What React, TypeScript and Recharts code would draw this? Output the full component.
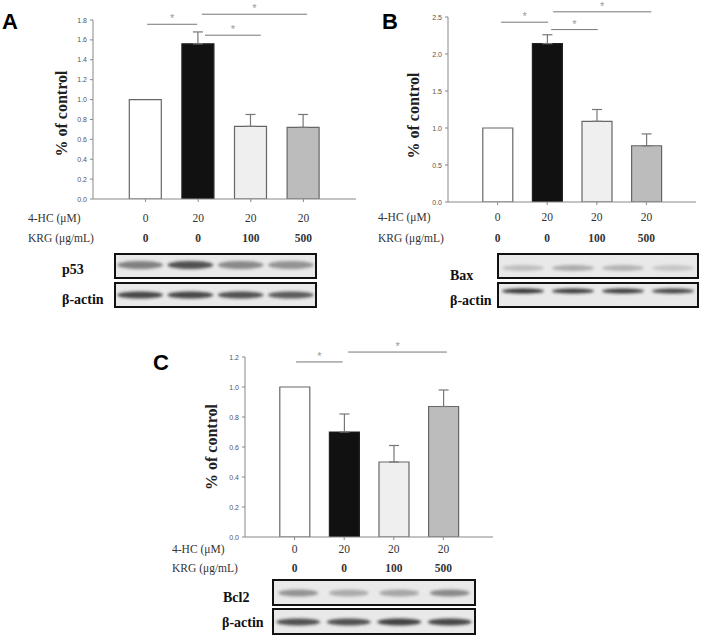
import { BarChart, Bar, XAxis, YAxis, ErrorBar, Cell, ReferenceLine } from 'recharts';

// treatment rows shown under every panel
const hcDose = ['0', '20', '20', '20'];
const krgDose = ['0', '0', '100', '500'];
const barFills = ['#ffffff', '#111111', '#efefef', '#bcbcbc'];

// A: p53
const p53Values = [1.0, 1.56, 0.73, 0.72];
const p53Errors = [0, 0.12, 0.12, 0.13];
const p53Ticks = [0, 0.2, 0.4, 0.6, 0.8, 1.0, 1.2, 1.4, 1.6, 1.8];
const p53Sig = [
  { from: 0.03, to: 0.98, y: 1.757 },
  { from: 1.13, to: 2.19, y: 1.647 },
  { from: 1.07, to: 3.07, y: 1.858 },
];

// B: Bax
const baxValues = [1.0, 2.14, 1.09, 0.76];
const baxErrors = [0, 0.12, 0.16, 0.16];
const baxTicks = [0, 0.5, 1.0, 1.5, 2.0, 2.5];
const baxSig = [
  { from: 0.07, to: 1.02, y: 2.43 },
  { from: 1.08, to: 2.02, y: 2.33 },
  { from: 1.12, to: 3.1, y: 2.57 },
];

// C: Bcl2
const bcl2Values = [1.0, 0.7, 0.5, 0.87];
const bcl2Errors = [0, 0.12, 0.11, 0.11];
const bcl2Ticks = [0, 0.2, 0.4, 0.6, 0.8, 1.0, 1.2];
const bcl2Sig = [
  { from: 0.03, to: 0.97, y: 1.167 },
  { from: 1.08, to: 3.07, y: 1.233 },
];

// western blot band intensities per lane
const p53Bands = [0.55, 0.8, 0.5, 0.45];
const actinBandsA = [0.85, 0.85, 0.8, 0.75];
const baxBands = [0.22, 0.32, 0.28, 0.18];
const actinBandsB = [0.95, 0.9, 0.9, 0.85];
const bcl2Bands = [0.45, 0.32, 0.35, 0.5];
const actinBandsC = [0.8, 0.8, 0.88, 0.85];

const serif = '"Liberation Serif", "Times New Roman", serif';
const sans = '"Liberation Sans", Arial, sans-serif';

const RowTick = (props: any) => {
  const { x, y, payload, rows } = props;
  const i = payload.value;
  return (
    <g>
      <text x={x} y={y + rows[0]} textAnchor="middle" fontFamily={serif} fontSize={11.5} fill="#333">
        {hcDose[i]}
      </text>
      <text x={x} y={y + rows[1]} textAnchor="middle" fontFamily={serif} fontSize={11.5} fontWeight="bold" fill="#333">
        {krgDose[i]}
      </text>
    </g>
  );
};

const YTick = (props: any) => {
  const { x, y, payload } = props;
  return (
    <text x={x} y={y} dy={2.5} textAnchor="end" fontFamily={sans} fontSize={7} fill="#555">
      {Number(payload.value).toFixed(1)}
    </text>
  );
};

const YLabel = (props: any) => {
  const { viewBox, dx, dy } = props;
  const x = viewBox.x + dx;
  const y = viewBox.y + viewBox.height / 2 + dy;
  return (
    <text
      x={x}
      y={y}
      transform={`rotate(-90, ${x}, ${y})`}
      textAnchor="middle"
      dominantBaseline="central"
      fontFamily={serif}
      fontWeight="bold"
      fontSize={16}
      fill="#222"
    >
      % of control
    </text>
  );
};

type PanelProps = {
  values: number[];
  errors: number[];
  ticks: number[];
  sig: { from: number; to: number; y: number }[];
  width: number;
  height: number;
  margin: { top: number; right: number; bottom: number; left: number };
  barSize: number;
  rows: number[];
  labelDx: number;
  labelDy: number;
};

const Panel = ({ values, errors, ticks, sig, width, height, margin, barSize, rows, labelDx, labelDy }: PanelProps) => {
  const data = values.map((v, i) => ({ pos: i, value: v, err: errors[i] ? [0, errors[i]] : null }));
  const top = ticks[ticks.length - 1];
  return (
    <BarChart width={width} height={height} data={data} margin={margin}>
      <XAxis
        type="number"
        dataKey="pos"
        domain={[-1, 4]}
        allowDataOverflow
        ticks={[0, 1, 2, 3]}
        interval={0}
        height={45}
        tickSize={3}
        stroke="#888"
        tick={<RowTick rows={rows} />}
      />
      <YAxis
        type="number"
        domain={[0, top]}
        allowDataOverflow
        ticks={ticks}
        interval={0}
        width={40}
        tickSize={3}
        tickMargin={3}
        stroke="#888"
        tick={<YTick />}
        label={(p: any) => <YLabel {...p} dx={labelDx} dy={labelDy} />}
      />
      <Bar dataKey="value" barSize={barSize} strokeWidth={1.2} isAnimationActive={false}>
        {data.map((d, i) => (
          <Cell key={d.pos} fill={barFills[i]} stroke={i === 1 ? '#222' : '#666'} />
        ))}
        <ErrorBar dataKey="err" direction="y" width={5} stroke="#777" strokeWidth={1.2} isAnimationActive={false} />
      </Bar>
      {sig.map((s, i) => (
        <ReferenceLine
          key={i}
          segment={[{ x: s.from, y: s.y }, { x: s.to, y: s.y }]}
          ifOverflow="visible"
          stroke="#777"
          strokeWidth={1}
          label={{ value: '*', position: 'top', offset: 2, fill: '#999', fontSize: 11, fontFamily: sans }}
        />
      ))}
    </BarChart>
  );
};

const Blot = ({ x, y, w, h, bands, bandY, bandW, bandH }: any) => (
  <g>
    <rect x={x} y={y} width={w} height={h} fill="#e9e9e9" stroke="#111" strokeWidth={2} />
    {bands.map((a: number, i: number) => (
      <ellipse
        key={i}
        cx={x + (w * (i + 0.5)) / 4}
        cy={bandY}
        rx={bandW / 2}
        ry={bandH / 2}
        fill="#2a2a2a"
        opacity={a}
        filter="url(#blur)"
      />
    ))}
  </g>
);

const Overlay = () => (
  <svg width={701} height={636} style={{ position: 'absolute', left: 0, top: 0, pointerEvents: 'none' }}>
    <defs>
      <filter id="blur" x="-20%" y="-100%" width="140%" height="300%">
        <feGaussianBlur stdDeviation="1.6" />
      </filter>
    </defs>
    <g fontFamily={sans} fontWeight="bold" fontSize={22} fill="#000">
      <text x={2} y={29}>A</text>
      <text x={382} y={29}>B</text>
      <text x={153} y={370}>C</text>
    </g>
    <g fontFamily={serif} fontSize={11.5} fill="#333">
      <text x={28} y={222}>4-HC (μM)</text>
      <text x={28} y={242}>KRG (μg/mL)</text>
      <text x={378} y={221}>4-HC (μM)</text>
      <text x={378} y={242}>KRG (μg/mL)</text>
      <text x={172} y={553}>4-HC (μM)</text>
      <text x={172} y={572}>KRG (μg/mL)</text>
    </g>
    <g fontFamily={serif} fontSize={14} fontWeight="bold" fill="#111">
      <text x={62} y={274}>p53</text>
      <text x={62} y={304}>β-actin</text>
      <text x={450} y={280}>Bax</text>
      <text x={450} y={305}>β-actin</text>
      <text x={223} y={602}>Bcl2</text>
      <text x={222} y={627}>β-actin</text>
    </g>
    <Blot x={115} y={254} w={201} h={24} bands={p53Bands} bandY={265} bandW={46} bandH={8} />
    <Blot x={115} y={283} w={201} h={24} bands={actinBandsA} bandY={295} bandW={46} bandH={7} />
    <Blot x={498} y={254} w={200} h={24} bands={baxBands} bandY={268} bandW={42} bandH={6} />
    <Blot x={498} y={283} w={200} h={24} bands={actinBandsB} bandY={291} bandW={42} bandH={5} />
    <Blot x={273} y={580} w={202} h={25} bands={bcl2Bands} bandY={593} bandW={40} bandH={7} />
    <Blot x={273} y={609} w={202} h={25} bands={actinBandsC} bandY={622} bandW={44} bandH={7} />
  </svg>
);

export default function App() {
  return (
    <div style={{ position: 'absolute', left: 0, top: 0, width: 701, height: 636, background: '#fff' }}>
      <div style={{ position: 'absolute', left: 0, top: 0 }}>
        <Panel
          values={p53Values}
          errors={p53Errors}
          ticks={p53Ticks}
          sig={p53Sig}
          width={360}
          height={245}
          margin={{ top: 20, right: 4, bottom: 1, left: 53 }}
          barSize={32}
          rows={[18, 38]}
          labelDx={8}
          labelDy={4}
        />
      </div>
      <div style={{ position: 'absolute', left: 340, top: 0 }}>
        <Panel
          values={baxValues}
          errors={baxErrors}
          ticks={baxTicks}
          sig={baxSig}
          width={361}
          height={248}
          margin={{ top: 17, right: 5, bottom: 1, left: 68 }}
          barSize={30}
          rows={[14, 35]}
          labelDx={5}
          labelDy={6}
        />
      </div>
      <div style={{ position: 'absolute', left: 150, top: 320 }}>
        <Panel
          values={bcl2Values}
          errors={bcl2Errors}
          ticks={bcl2Ticks}
          sig={bcl2Sig}
          width={348}
          height={263}
          margin={{ top: 37, right: 5, bottom: 1, left: 55 }}
          barSize={30}
          rows={[11, 30]}
          labelDx={6}
          labelDy={0}
        />
      </div>
      <Overlay />
    </div>
  );
}
